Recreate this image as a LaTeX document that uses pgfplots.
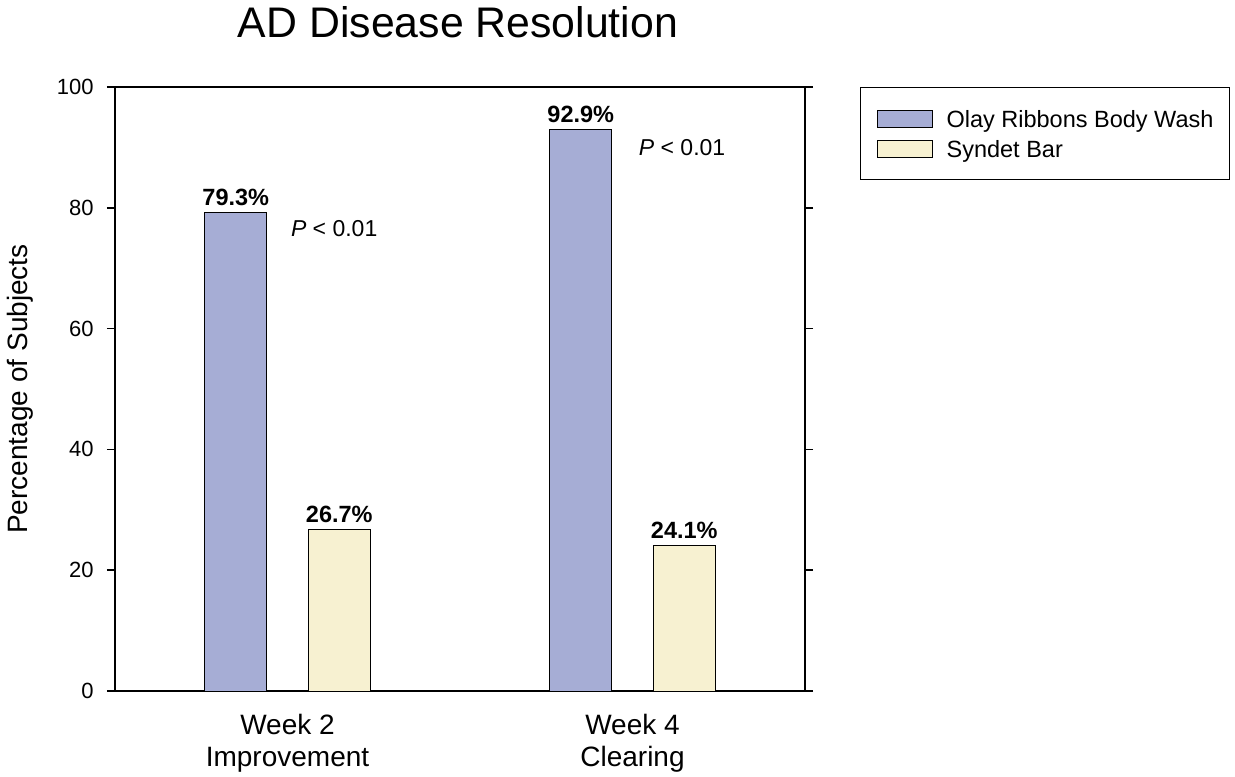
\documentclass[border=0pt]{standalone}
\usepackage{fontspec}
\setmainfont{Liberation Sans}
\usepackage{pgfplots}
\pgfplotsset{compat=1.18}
\definecolor{barblue}{RGB}{166,173,213}
\definecolor{baryellow}{RGB}{247,241,209}
\pgfplotsset{
  mylegend/.style={legend image code/.code={\draw[##1] (0pt,-4.25pt) rectangle (27.5pt,4.25pt);}},
  valnodes/.style={nodes near coords={\pgfmathprintnumber[fixed,fixed zerofill,precision=1]{\pgfplotspointmeta}\%}},
}
\begin{document}
\begin{tikzpicture}
\begin{axis}[
  name=ax,
  scale only axis, width=345pt, height=302pt,
  xmin=0.5, xmax=2.5, ymin=0, ymax=100,
  /pgf/number format/assume math mode=true,
  xtick={1,2},
  xticklabels={{Week 2\\Improvement},{Week 4\\Clearing}},
  xticklabel style={align=center, font=\fontsize{14}{15.75}\selectfont, anchor=north, inner sep=0pt, yshift=-7.5pt},
  x tick style={draw=none},
  ytick={0,20,40,60,80,100},
  yticklabel style={font=\fontsize{11}{13}\selectfont, anchor=east, inner sep=0pt, xshift=-6.5pt},
  ytick pos=both,
  tick align=outside,
  major tick length=4pt,
  y tick style={line width=0.9pt, black},
  axis line style={line width=0.9pt},
  ylabel={Percentage of Subjects},
  ylabel style={at={([xshift=-43.5pt]rel axis cs:0,0.5)}, anchor=base, font=\fontsize{14}{16}\selectfont},
  title={AD Disease Resolution},
  title style={at={(rel axis cs:0.5,1)}, anchor=base, yshift=18.5pt, xshift=-1pt, font=\fontsize{21.4}{24}\selectfont},
  legend style={at={(rel axis cs:1.0797,1)}, anchor=north west, draw=black, line width=0.6pt,
    font=\fontsize{11.75}{14}\selectfont, cells={anchor=west}, inner xsep=8pt, inner ysep=10pt,
    row sep=4pt, column sep=7pt, nodes={inner sep=0pt, text height=8.5pt, text depth=2.5pt}},
  every node near coord/.append style={font=\bfseries\fontsize{11.75}{13}\selectfont, anchor=base, yshift=3.5pt, inner sep=0pt},
]
\addplot[ybar, bar width=0.18, bar shift=0pt, fill=barblue, draw=black, line width=0.5pt, valnodes, mylegend]
  coordinates {(0.85,79.3) (1.85,92.9)};
\addplot[ybar, bar width=0.18, bar shift=0pt, fill=baryellow, draw=black, line width=0.5pt, valnodes, mylegend]
  coordinates {(1.15,26.7) (2.15,24.1)};
\legend{\raisebox{-1.5pt}{Olay Ribbons Body Wash}, \raisebox{-1.5pt}{Syndet Bar}}
\node[anchor=base west, inner sep=0pt, font=\fontsize{11.5}{13}\selectfont] at (axis cs:1.009,75.2) {\textit{P} < 0.01};
\node[anchor=base west, inner sep=0pt, font=\fontsize{11.5}{13}\selectfont] at (axis cs:2.0175,88.7) {\textit{P} < 0.01};
\end{axis}
\pgfresetboundingbox
\path[use as bounding box] ([shift={(-57.5pt,-42.5pt)}]ax.south west) rectangle ([shift={(560pt,345.5pt)}]ax.south west);
\end{tikzpicture}
\end{document}
